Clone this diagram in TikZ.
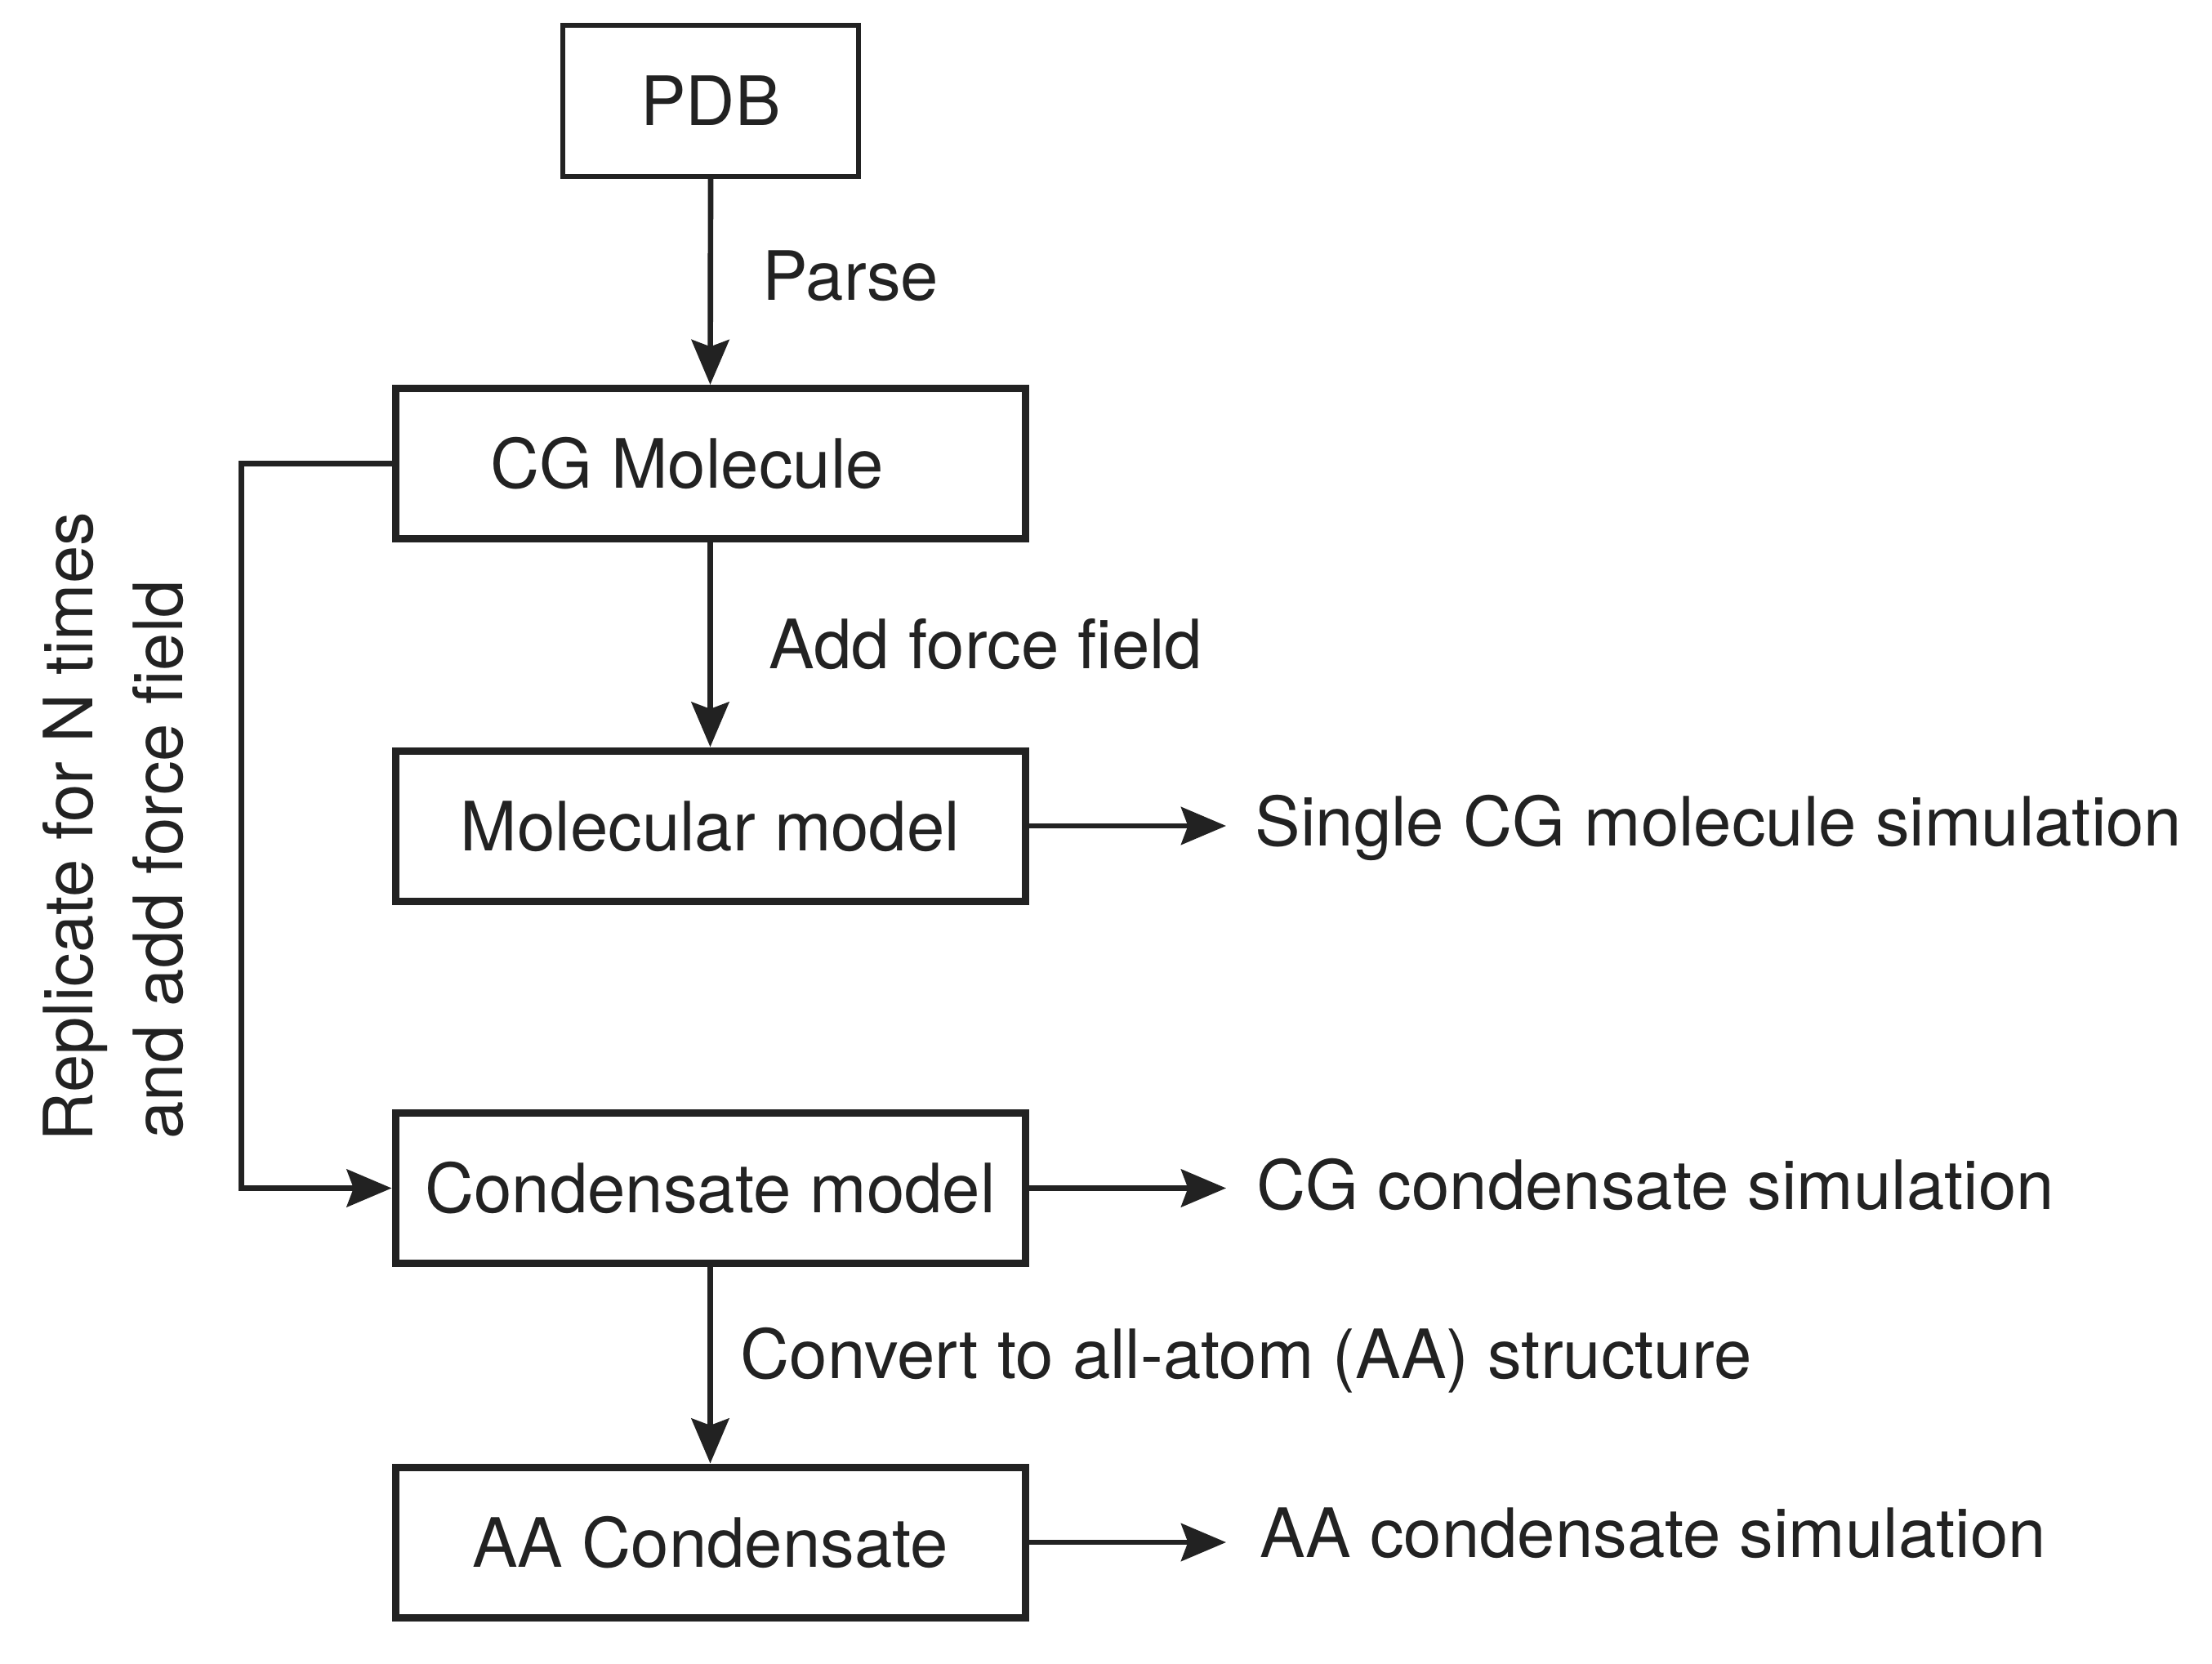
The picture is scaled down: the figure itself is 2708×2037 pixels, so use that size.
\documentclass[tikz,border=0pt]{standalone}
\usepackage{fontspec}
\setmainfont{TeX Gyre Heros}
\usetikzlibrary{arrows.meta}
\definecolor{ink}{RGB}{34,34,34}
\begin{document}
\begin{tikzpicture}[x=0.3pt,y=-0.3pt,
  txt/.style={font=\fontsize{25pt}{33pt}\selectfont, text=ink, inner sep=0pt},
  mainbox/.style={draw=ink, line width=2.7pt, minimum width=231.3pt, minimum height=55.2pt,
     inner sep=0pt, text height=18pt, text depth=0pt, font=\fontsize{25pt}{33pt}\selectfont, text=ink},
  pdbbox/.style={mainbox, line width=1.9pt, minimum width=108.6pt, minimum height=55.5pt},
  conn/.style={draw=ink, line width=2pt},
  arr/.style={conn, -{Stealth[length=16.5pt, width=13.8pt, inset=2.5pt]}}
]
\useasboundingbox (0,0) rectangle (2708,2037);

% boxes
\node[pdbbox]  (pdb) at (870,123.5)   {PDB};
\node[mainbox] (cg)  at (869.5,567.5) {CG Molecule\kern17pt};
\node[mainbox] (mm)  at (869.5,1011)  {Molecular model};
\node[mainbox] (cm)  at (869.5,1454.5){Condensate model};
\node[mainbox] (aa)  at (869.5,1888)  {AA Condensate};

% vertical flow
\draw[arr] (pdb.south) -- (cg.north);
\draw[arr] (cg.south) -- (mm.north);
\draw[arr] (cm.south) -- (aa.north);

\node[txt, anchor=base west] (lparse) at (933,368)  {Parse};
\node[txt, anchor=base west] (laff)   at (941,818)  {Add force field};
\node[txt, anchor=base west] (lconv)  at (906,1687) {Convert to all-atom (AA) structure};

% right outputs
\coordinate (tipx) at (1501,0);
\node[txt, anchor=base west] (o1) at (1536,1035) {Single CG molecule simulation};
\node[txt, anchor=base west] (o2) at (1538,1480) {CG condensate simulation};
\node[txt, anchor=base west] (o3) at (1542,1906) {AA condensate simulation};
\draw[arr] (mm.east) -- (mm.east -| tipx);
\draw[arr] (cm.east) -- (cm.east -| tipx);
\draw[arr] (aa.east) -- (aa.east -| tipx);

% loop back
\coordinate (lp) at (295.5,567.5);
\draw[arr] (cg.west) -- (lp) |- (cm.west);

\node[txt, anchor=base west, rotate=90] (rep1) at (113,1398) {Replicate for N times};
\node[txt, anchor=base west, rotate=90] (rep2) at (223,1395) {and add force field};
\end{tikzpicture}
\end{document}
